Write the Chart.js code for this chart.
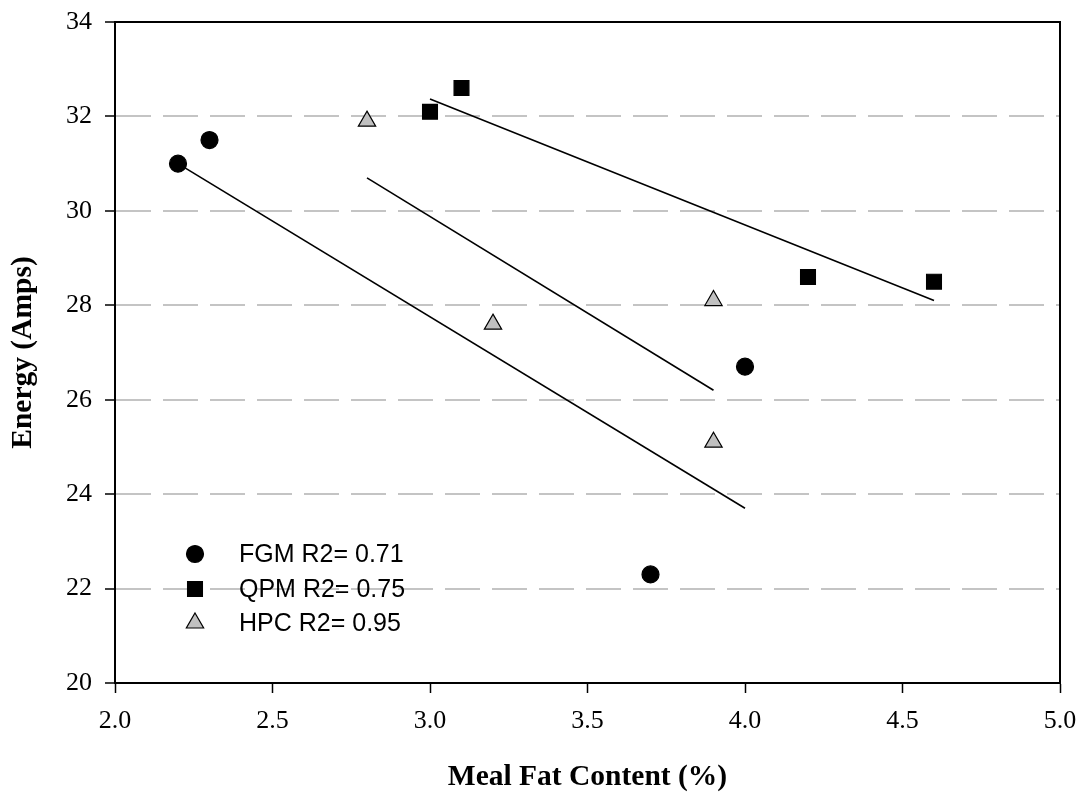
<!DOCTYPE html>
<html lang="en">

<head>
    <meta charset="UTF-8">
    <title>Energy vs Meal Fat Content</title>
    <style>
        body { margin: 0; background: #fff; }
        #wrap { width: 1083px; height: 795px; }
    </style>
</head>

<body>
    <div id="wrap">
        <canvas id="myChart"></canvas>
    </div>

    <script src="https://cdn.jsdelivr.net/npm/chart.js"></script>

    <script>
        // measured points
        const fgmX = [2.2, 2.3, 3.7, 4.0];
        const fgmY = [31.0, 31.5, 22.3, 26.7];
        const qpmX = [3.0, 3.1, 4.2, 4.6];
        const qpmY = [32.1, 32.6, 28.6, 28.5];
        const hpcX = [2.8, 3.2, 3.9, 3.9];
        const hpcY = [31.9, 27.6, 28.1, 25.1];

        // regression line end points
        const fgmFitX = [2.2, 4.0];
        const fgmFitY = [31.0, 23.7];
        const qpmFitX = [3.0, 4.6];
        const qpmFitY = [32.37, 28.1];
        const hpcFitX = [2.8, 3.9];
        const hpcFitY = [30.7, 26.2];

        const seriesLabels = ['FGM R2= 0.71', 'QPM R2= 0.75', 'HPC R2= 0.95'];
        const xTitle = 'Meal Fat Content (%)';
        const yTitle = 'Energy (Amps)';

        const toPoints = (xs, ys) => xs.map((x, i) => ({ x: x, y: ys[i] }));

        const serif = "'Times New Roman', 'Liberation Serif', serif";
        const sans = "Arial, 'Liberation Sans', sans-serif";

        function markerSet(label, xs, ys, style, radius, fill) {
            return {
                type: 'scatter',
                label: label,
                data: toPoints(xs, ys),
                pointStyle: style,
                pointRadius: radius,
                pointBackgroundColor: fill,
                pointBorderColor: '#000',
                pointBorderWidth: 1.2,
                order: 0
            };
        }

        function fitSet(xs, ys) {
            return {
                type: 'line',
                data: toPoints(xs, ys),
                borderColor: '#000',
                borderWidth: 1.6,
                pointRadius: 0,
                fill: false,
                order: 1
            };
        }

        // frame on top and right side
        const framePlugin = {
            id: 'frame',
            afterDraw(chart) {
                const { ctx, chartArea: a } = chart;
                ctx.save();
                ctx.strokeStyle = '#000';
                ctx.lineWidth = 2;
                ctx.beginPath();
                ctx.moveTo(a.left, a.top);
                ctx.lineTo(a.right, a.top);
                ctx.lineTo(a.right, a.bottom);
                ctx.stroke();
                ctx.restore();
            }
        };

        // legend drawn inside the plot, lower left
        const legendPlugin = {
            id: 'innerLegend',
            afterDraw(chart) {
                const ctx = chart.ctx;
                const symX = 195, textX = 239, rowY = [554, 589, 623];
                ctx.save();
                for (let i = 0; i < 3; i++) {
                    const ds = chart.data.datasets[i];
                    ctx.fillStyle = ds.pointBackgroundColor;
                    ctx.strokeStyle = '#000';
                    ctx.lineWidth = 1.2;
                    Chart.helpers.drawPoint(ctx, {
                        pointStyle: ds.pointStyle,
                        radius: ds.pointRadius,
                        borderWidth: 1.2,
                        rotation: 0
                    }, symX, rowY[i]);
                    ctx.fillStyle = '#000';
                    ctx.font = '25px ' + sans;
                    ctx.textAlign = 'left';
                    ctx.textBaseline = 'middle';
                    ctx.fillText(ds.label, textX, rowY[i] + 1);
                }
                ctx.restore();
            }
        };

        const ctx = document.getElementById('myChart');
        new Chart(ctx, {
            data: {
                datasets: [
                    markerSet(seriesLabels[0], fgmX, fgmY, 'circle', 8.5, '#000'),
                    markerSet(seriesLabels[1], qpmX, qpmY, 'rect', 10.5, '#000'),
                    markerSet(seriesLabels[2], hpcX, hpcY, 'triangle', 10, '#c0c0c0'),
                    fitSet(fgmFitX, fgmFitY),
                    fitSet(qpmFitX, qpmFitY),
                    fitSet(hpcFitX, hpcFitY)
                ]
            },
            options: {
                responsive: true,
                maintainAspectRatio: false,
                animation: false,
                layout: { padding: { top: 22, right: 23, left: 0, bottom: 0 } },
                plugins: {
                    legend: { display: false },
                    tooltip: { enabled: false }
                },
                scales: {
                    x: {
                        type: 'linear',
                        position: 'bottom',
                        min: 2,
                        max: 5,
                        afterFit: (scale) => {
                            scale.height = 112;
                            scale.paddingLeft = 0;
                            scale.paddingRight = 0;
                        },
                        ticks: {
                            stepSize: 0.5,
                            color: '#000',
                            padding: 13,
                            font: { family: serif, size: 26 },
                            callback: (v) => Number(v).toFixed(1)
                        },
                        grid: {
                            drawOnChartArea: false,
                            tickLength: 10,
                            tickColor: '#000',
                            tickWidth: 1.5
                        },
                        border: { color: '#000', width: 2 },
                        title: {
                            display: true,
                            text: xTitle,
                            color: '#000',
                            padding: 0,
                            font: { family: serif, size: 29.5, weight: 'bold' }
                        }
                    },
                    y: {
                        type: 'linear',
                        position: 'left',
                        min: 20,
                        max: 34,
                        afterFit: (scale) => {
                            scale.width = 115;
                            scale.paddingTop = 0;
                            scale.paddingBottom = 0;
                        },
                        ticks: {
                            stepSize: 2,
                            color: '#000',
                            padding: 13,
                            font: { family: serif, size: 26 }
                        },
                        grid: {
                            color: (c) => (c.tick && (c.tick.value === 20 || c.tick.value === 34)) ? 'rgba(0,0,0,0)' : '#c4c4c4',
                            lineWidth: 2,
                            tickLength: 10,
                            tickColor: '#000',
                            tickWidth: 1.5,
                            tickBorderDash: []
                        },
                        // in v4 border.dash is what dashes the grid lines
                        border: { color: '#000', width: 2, dash: [35, 12] },
                        title: {
                            display: true,
                            text: yTitle,
                            color: '#000',
                            padding: { top: 6, bottom: 0 },
                            font: { family: serif, size: 29.5, weight: 'bold' }
                        }
                    }
                }
            },
            plugins: [framePlugin, legendPlugin]
        });
    </script>

</body>

</html>
